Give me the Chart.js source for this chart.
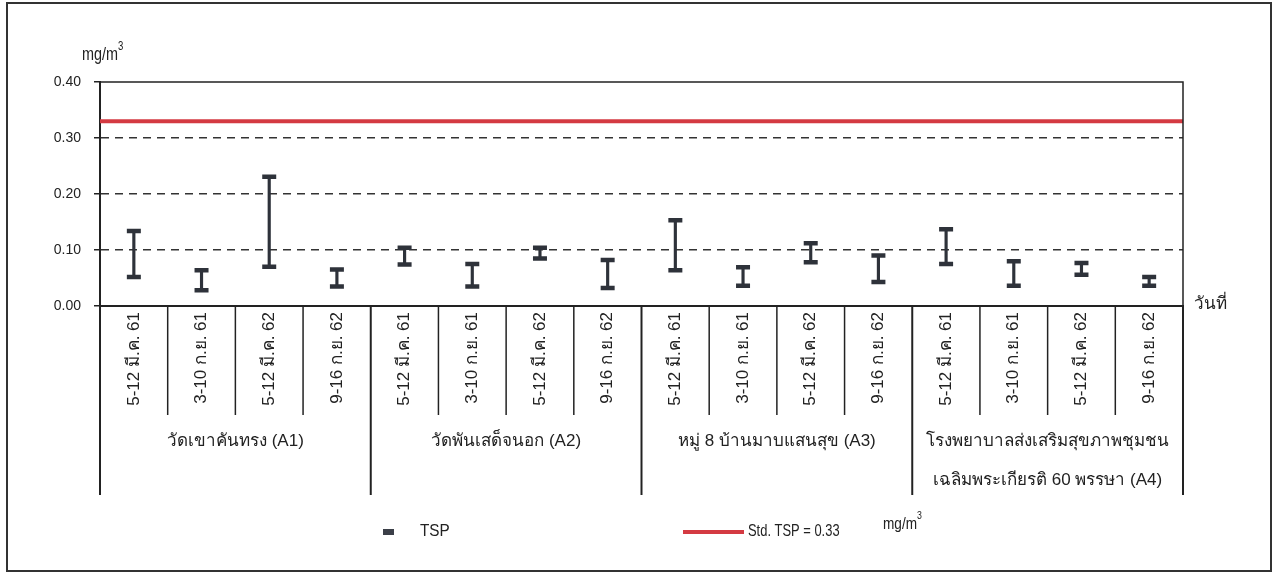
<!DOCTYPE html>
<html>
<head>
<meta charset="utf-8">
<script src="https://cdn.jsdelivr.net/npm/chart.js@4.4.1/dist/chart.umd.min.js"></script>
<style>
html,body{margin:0;padding:0;background:#fff;}
canvas{display:block;}
</style>
</head>
<body>
<canvas id="c" width="1276" height="573"></canvas>
<script>
// ---- data ----
const dateLabels = ['5-12 มี.ค. 61', '3-10 ก.ย. 61', '5-12 มี.ค. 62', '9-16 ก.ย. 62'];
const sites = [
  ['วัดเขาคันทรง (A1)'],
  ['วัดพันเสด็จนอก (A2)'],
  ['หมู่ 8 บ้านมาบแสนสุข (A3)'],
  ['โรงพยาบาลส่งเสริมสุขภาพชุมชน', 'เฉลิมพระเกียรติ 60 พรรษา (A4)']
];
const tspMin = [0.052, 0.028, 0.070, 0.035, 0.074, 0.035, 0.085, 0.032, 0.064, 0.036, 0.078, 0.043, 0.075, 0.036, 0.056, 0.036];
const tspMax = [0.134, 0.064, 0.231, 0.065, 0.104, 0.075, 0.104, 0.082, 0.153, 0.069, 0.112, 0.090, 0.137, 0.080, 0.077, 0.052];
const stdTSP = 0.33;
const yTicks = [0.00, 0.10, 0.20, 0.30, 0.40];

const categories = [];
sites.forEach(() => dateLabels.forEach(d => categories.push(d)));

const FONT = "'Liberation Sans', Arial, 'Noto Sans', 'DejaVu Sans', sans-serif";
const DARK = '#2e323a';
const RED = '#d43a42';

Chart.defaults.font.family = FONT;
Chart.defaults.color = '#222';

function narrowText(ctx, text, x, y, sx) {
  ctx.save();
  ctx.translate(x, y);
  ctx.scale(sx, 1);
  ctx.fillText(text, 0, 0);
  const w = ctx.measureText(text).width * sx;
  ctx.restore();
  return w;
}

const decor = {
  id: 'decor',
  beforeDraw(chart) {
    const ctx = chart.ctx;
    ctx.save();
    ctx.fillStyle = '#fff';
    ctx.fillRect(0, 0, chart.width, chart.height);
    ctx.strokeStyle = '#333';
    ctx.lineWidth = 2;
    ctx.strokeRect(7, 3, 1264, 568);
    ctx.restore();
  },
  beforeDatasetsDraw(chart) {
    const ctx = chart.ctx;
    const a = chart.chartArea;
    const y = chart.scales.y;
    const yy = y.getPixelForValue(stdTSP);
    ctx.save();
    ctx.strokeStyle = RED;
    ctx.lineWidth = 4;
    ctx.beginPath();
    ctx.moveTo(a.left, yy);
    ctx.lineTo(a.right, yy);
    ctx.stroke();
    ctx.restore();
  },
  afterDraw(chart) {
    const ctx = chart.ctx;
    const a = chart.chartArea;
    const x = chart.scales.x;
    ctx.save();
    ctx.strokeStyle = '#222';
    ctx.lineWidth = 1.5;
    // top and right border of plot
    ctx.beginPath();
    ctx.moveTo(a.left, a.top);
    ctx.lineTo(a.right, a.top);
    ctx.lineTo(a.right, a.bottom);
    ctx.stroke();
    // table separators below axis
    const half = (x.getPixelForValue(1) - x.getPixelForValue(0)) / 2;
    for (let i = 0; i <= categories.length; i++) {
      const px = i < categories.length ? x.getPixelForValue(i) - half : x.getPixelForValue(i - 1) + half;
      const bottom = (i % dateLabels.length === 0) ? 495 : 415;
      ctx.lineWidth = (i % dateLabels.length === 0) ? 2 : 1.5;
      ctx.beginPath();
      ctx.moveTo(px, a.bottom);
      ctx.lineTo(px, bottom);
      ctx.stroke();
    }
    // group labels
    ctx.fillStyle = '#222';
    ctx.font = '17px ' + FONT;
    ctx.textAlign = 'center';
    ctx.textBaseline = 'middle';
    sites.forEach((lines, g) => {
      const first = g * dateLabels.length;
      const last = first + dateLabels.length - 1;
      const cx = (x.getPixelForValue(first) + x.getPixelForValue(last)) / 2;
      lines.forEach((t, k) => ctx.fillText(t, cx, 441 + k * 39));
    });
    // y title
    ctx.textAlign = 'left';
    ctx.textBaseline = 'alphabetic';
    ctx.font = '18px ' + FONT;
    let w = narrowText(ctx, 'mg/m', 82, 60, 0.8);
    ctx.font = '12px ' + FONT;
    narrowText(ctx, '3', 82 + w, 50, 0.8);
    // x title
    ctx.font = '17px ' + FONT;
    ctx.textBaseline = 'middle';
    ctx.fillText('วันที่', 1194, 304);
    // legend
    ctx.fillStyle = '#3b3f48';
    ctx.fillRect(383, 529, 11, 6);
    ctx.fillStyle = '#222';
    ctx.font = '17px ' + FONT;
    ctx.textBaseline = 'middle';
    narrowText(ctx, 'TSP', 420, 531, 0.9);
    ctx.strokeStyle = RED;
    ctx.lineWidth = 4;
    ctx.beginPath();
    ctx.moveTo(683, 532);
    ctx.lineTo(744, 532);
    ctx.stroke();
    narrowText(ctx, 'Std. TSP = 0.33', 748, 531, 0.76);
    ctx.font = '17px ' + FONT;
    ctx.textBaseline = 'alphabetic';
    w = narrowText(ctx, 'mg/m', 883, 529, 0.8);
    ctx.font = '11px ' + FONT;
    narrowText(ctx, '3', 883 + w, 519, 0.8);
    ctx.restore();
  }
};

new Chart(document.getElementById('c'), {
  type: 'bar',
  data: {
    labels: categories,
    datasets: [
      {
        type: 'bar',
        label: 'TSP',
        data: tspMin.map((v, i) => [v, tspMax[i]]),
        backgroundColor: DARK,
        borderWidth: 0,
        barThickness: 2.5,
        order: 2
      },
      {
        type: 'line',
        label: 'max',
        data: tspMax,
        showLine: false,
        pointStyle: 'line',
        pointRadius: 7,
        pointBorderWidth: 4.5,
        borderColor: DARK,
        backgroundColor: DARK,
        order: 1
      },
      {
        type: 'line',
        label: 'min',
        data: tspMin,
        showLine: false,
        pointStyle: 'line',
        pointRadius: 7,
        pointBorderWidth: 4.5,
        borderColor: DARK,
        backgroundColor: DARK,
        order: 1
      }
    ]
  },
  options: {
    responsive: false,
    animation: false,
    events: [],
    layout: { padding: { left: 0, right: 93, top: 82, bottom: 157 } },
    plugins: { legend: { display: false }, tooltip: { enabled: false } },
    scales: {
      x: {
        offset: true,
        grid: { display: true, drawOnChartArea: false, drawTicks: false },
        border: { display: true, color: '#222', width: 2 },
        ticks: {
          autoSkip: false,
          minRotation: 90,
          maxRotation: 90,
          padding: 6,
          color: '#222',
          font: { size: 17, family: FONT }
        },
        afterFit(s) { s.height = 110; }
      },
      y: {
        min: 0,
        max: 0.4,
        afterBuildTicks(s) { s.ticks = yTicks.map(v => ({ value: v })); },
        grid: {
          drawOnChartArea: true,
          drawTicks: true,
          tickLength: 6,
          lineWidth: 1.5,
          color: (c) => (c.tick && (c.tick.value === 0 || Math.abs(c.tick.value - 0.4) < 1e-9)) ? 'rgba(0,0,0,0)' : '#333',
          tickColor: '#222',
          tickWidth: 1.5
        },
        border: { display: true, color: '#222', width: 2, dash: [8, 6] },
        ticks: {
          padding: 13,
          color: '#222',
          font: { size: 14, family: FONT },
          callback: (v) => Number(v).toFixed(2)
        },
        afterFit(s) { s.width = 100; }
      }
    }
  },
  plugins: [decor]
});
</script>
</body>
</html>
